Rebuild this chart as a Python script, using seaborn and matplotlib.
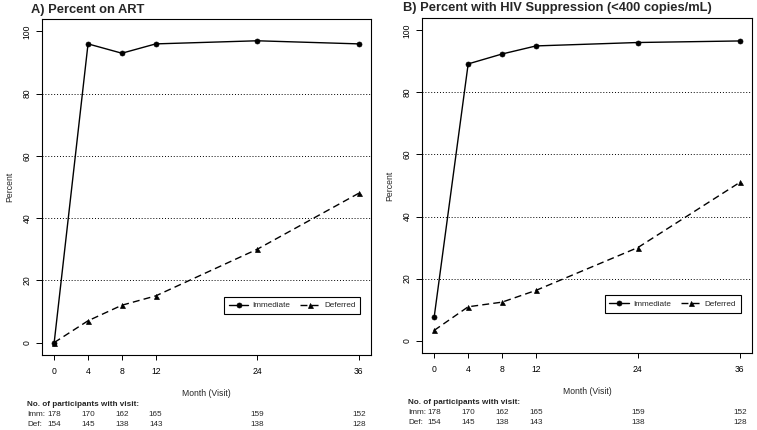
import matplotlib
matplotlib.use("Agg")
import matplotlib.pyplot as plt
import matplotlib.transforms as mtransforms
import seaborn as sns
import pandas as pd

# ---- data ----
months = [0, 4, 8, 12, 24, 36]
imm_art = [0, 96, 93, 96, 97, 96]
def_art = [0, 7, 12, 15, 30, 48]
imm_sup = [7.7, 89.2, 92.4, 95.0, 96.1, 96.6]
def_sup = [3.3, 10.9, 12.4, 16.2, 30.0, 51.0]
n_imm = [178, 170, 162, 165, 159, 152]
n_def = [154, 145, 138, 143, 138, 128]
arms = ["Immediate", "Deferred"]
titles = ["A) Percent on ART", "B) Percent with HIV Suppression (<400 copies/mL)"]
grid_levels = [20, 40, 60, 80]

sns.set_theme(style="white")
plt.rcParams["font.family"] = ["Liberation Sans", "DejaVu Sans"]

fig = plt.figure(figsize=(7.57, 4.30), dpi=100)
axA = fig.add_axes([42 / 757, 1 - 355 / 430, 329 / 757, 336 / 430])
axB = fig.add_axes([422 / 757, 1 - 353 / 430, 330 / 757, 335 / 430])

panels = [
    (axA, imm_art, def_art, titles[0], -0.033, [404, 414, 424], -0.0456, 393),
    (axB, imm_sup, def_sup, titles[1], -0.058, [402, 412, 422], -0.042, 391),
]

for ax, imm, dfr, title, tx, rows_y, lx, xl_y in panels:
    df = pd.DataFrame({
        "month": months * 2,
        "pct": imm + dfr,
        "arm": [arms[0]] * len(months) + [arms[1]] * len(months),
    })
    for g in grid_levels:
        ax.axhline(g, color="black", lw=0.7, ls=(0, (1, 2)), zorder=0)
    sns.lineplot(
        data=df, x="month", y="pct", style="arm", style_order=arms,
        markers={"Immediate": "o", "Deferred": "^"},
        dashes={"Immediate": "", "Deferred": (5, 3)},
        color="black", lw=1.0, markersize=3.6, markeredgecolor="black",
        markeredgewidth=0.5, ax=ax, legend=True,
    )
    ax.set_xlim(-1.44, 37.44)
    ax.set_ylim(-4, 104)
    ax.set_xticks(months)
    ax.set_yticks([0, 20, 40, 60, 80, 100])
    for s in ax.spines.values():
        s.set_visible(True)
        s.set_color("black")
        s.set_linewidth(0.8)
    ax.tick_params(axis="x", direction="out", length=3.6, width=0.7, pad=5,
                   labelsize=6.2, bottom=True, colors="black")
    ax.tick_params(axis="y", direction="out", length=4.3, width=0.7, pad=3,
                   labelsize=6.2, left=True, labelrotation=90, colors="black")
    for lab in ax.get_yticklabels():
        lab.set_va("center")
    ax.set_xlabel("Month (Visit)", fontsize=6.2)
    ax.xaxis.set_label_coords(0.5, -(xl_y - 4.5 - (1 - ax.get_position().y0) * 430) / (ax.get_position().height * 430))
    ax.set_ylabel("Percent", fontsize=6.2)
    ax.yaxis.set_label_coords(-0.084, 0.5)
    ax.text(tx, 1.0 + 9.5 / (ax.get_position().height * 430), title, transform=ax.transAxes,
            fontsize=9.3, fontweight="bold", ha="left", va="center")
    sns.move_legend(ax, "center", bbox_to_anchor=(0.76, 0.147), ncol=2, title=None,
                    frameon=True, fontsize=5.9, handlelength=2.4, columnspacing=1.2,
                    handletextpad=0.5, borderpad=0.6, fancybox=False)
    leg = ax.get_legend()
    leg.get_frame().set_edgecolor("black")
    leg.get_frame().set_linewidth(0.8)
    leg.get_frame().set_alpha(1)

    blend = mtransforms.blended_transform_factory(ax.transData, fig.transFigure)
    blendA = mtransforms.blended_transform_factory(ax.transAxes, fig.transFigure)
    ax.text(lx, 1 - rows_y[0] / 430, "No. of participants with visit:", transform=blendA,
            fontsize=5.9, fontweight="bold", ha="left", va="center", clip_on=False)
    ax.text(lx, 1 - rows_y[1] / 430, "Imm:", transform=blendA, fontsize=5.9,
            ha="left", va="center", clip_on=False)
    ax.text(lx, 1 - rows_y[2] / 430, "Def:", transform=blendA, fontsize=5.9,
            ha="left", va="center", clip_on=False)
    for m, a, d in zip(months, n_imm, n_def):
        ax.text(m, 1 - rows_y[1] / 430, str(a), transform=blend, fontsize=5.9,
                ha="center", va="center", clip_on=False)
        ax.text(m, 1 - rows_y[2] / 430, str(d), transform=blend, fontsize=5.9,
                ha="center", va="center", clip_on=False)

fig.savefig("out.png", dpi=100, facecolor="white")
